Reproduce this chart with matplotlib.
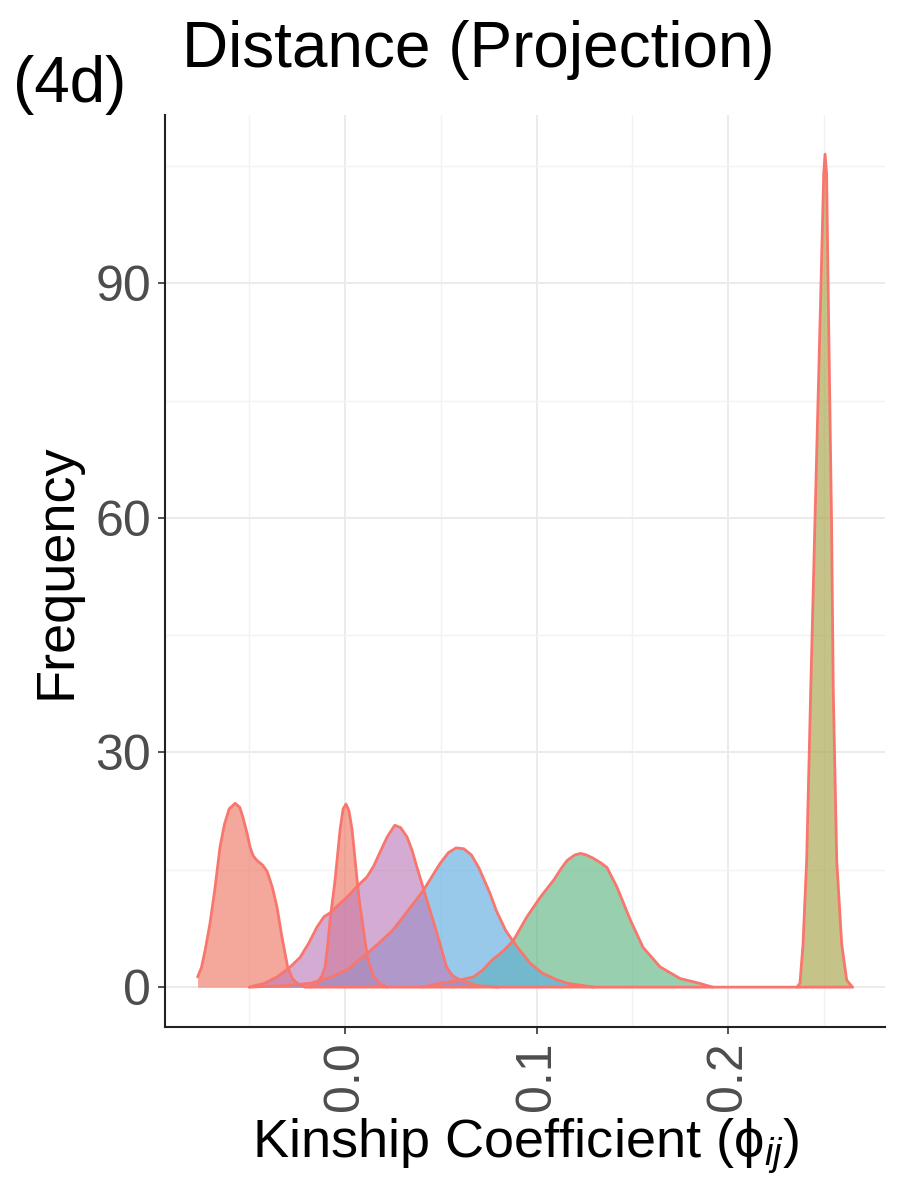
import matplotlib
matplotlib.use("Agg")
import matplotlib.pyplot as plt
from matplotlib.ticker import MultipleLocator

plt.rcParams['font.family'] = ['Liberation Sans', 'DejaVu Sans']
plt.rcParams['mathtext.fontset'] = 'custom'
plt.rcParams['mathtext.rm'] = 'Liberation Sans'
plt.rcParams['mathtext.it'] = 'Liberation Sans:italic'

# density curves (x = kinship coefficient, y = frequency)
red1_x = [-0.077, -0.075, -0.073, -0.0705, -0.068, -0.0653, -0.063, -0.0605, -0.0574,
          -0.055, -0.0533, -0.051, -0.0496, -0.048, -0.046, -0.043, -0.0407, -0.038,
          -0.0355, -0.033, -0.030, -0.0275, -0.025, -0.021, 0.265]
red1_y = [1.3, 2.5, 4.8, 8.2, 12.5, 17.9, 20.8, 22.8, 23.5,
          23.0, 21.7, 19.5, 17.9, 16.8, 16.2, 15.6, 14.8, 12.8,
          10.2, 6.5, 2.6, 1.1, 0.5, 0.0, 0.0]

red2_x = [-0.018, -0.0146, -0.012, -0.0104, -0.009, -0.0078, -0.0052, -0.0026, -0.001,
          0.0005, 0.002, 0.0037, 0.0063, 0.0075, 0.0089, 0.0105, 0.012, 0.015, 0.018, 0.022]
red2_y = [0.0, 0.5, 1.5, 2.6, 5.5, 8.6, 13.7, 20.1, 22.8,
          23.4, 22.6, 20.1, 13.7, 11.0, 8.6, 5.8, 3.5, 1.3, 0.5, 0.0]

purple_x = [-0.05, -0.042, -0.0355, -0.029, -0.0235, -0.019, -0.0146, -0.011, -0.0078,
            -0.003, 0.001, 0.006, 0.0115, 0.015, 0.018, 0.022, 0.026, 0.029, 0.0324,
            0.035, 0.0376, 0.0428, 0.048, 0.053, 0.056, 0.06, 0.069, 0.08]
purple_y = [0.0, 0.5, 1.3, 2.5, 3.8, 5.6, 7.7, 9.0, 9.5,
            10.6, 11.5, 12.8, 14.1, 15.5, 17.1, 19.2, 20.7, 20.4, 19.2,
            17.5, 15.3, 11.1, 6.9, 2.6, 1.5, 0.9, 0.2, 0.0]

blue_x = [-0.05, -0.03, -0.018, -0.008, 0.001, 0.0115, 0.018, 0.025, 0.032, 0.041,
          0.0496, 0.054, 0.058, 0.062, 0.066, 0.070, 0.0757, 0.079, 0.084, 0.090,
          0.0966, 0.103, 0.110, 0.116, 0.130]
blue_y = [0.0, 0.2, 0.5, 1.2, 2.2, 4.3, 5.7, 7.3, 9.5, 12.4,
          15.8, 17.2, 17.8, 17.7, 16.9, 15.2, 12.0, 9.8, 7.2, 5.1,
          3.1, 1.8, 1.0, 0.5, 0.0]

green_x = [0.04, 0.05, 0.058, 0.067, 0.072, 0.077, 0.083, 0.088, 0.095, 0.102, 0.109,
           0.113, 0.116, 0.120, 0.123, 0.126, 0.1295, 0.1335, 0.1368, 0.142, 0.149,
           0.1556, 0.1645, 0.175, 0.185, 0.192]
green_y = [0.0, 0.5, 0.8, 1.3, 2.2, 3.5, 4.7, 6.0, 9.0, 11.5, 13.7,
           15.2, 16.2, 16.9, 17.1, 16.9, 16.5, 15.9, 15.3, 12.8, 8.6,
           5.1, 2.6, 1.1, 0.5, 0.0]

olive_x = [0.236, 0.2376, 0.2392, 0.2411, 0.2432, 0.2454, 0.2484, 0.2500, 0.2507,
           0.2515, 0.2524, 0.2541, 0.2550, 0.2568, 0.2594, 0.262, 0.265]
olive_y = [0.0, 0.5, 5.5, 16.2, 37.8, 59.3, 88.0, 104.0, 106.5,
           104.0, 88.0, 59.3, 37.8, 16.2, 5.5, 0.9, 0.0]

edge = '#F8766D'
a = 0.65

fig = plt.figure(figsize=(8.97, 11.82), dpi=100)
ax = fig.add_axes([0.184, 0.1311, 0.8026, 0.7716])

curves = [
    (green_x, green_y, '#61B884'),
    (olive_x, olive_y, '#A6A348'),
    (red1_x, red1_y, '#EF7865'),
    (red2_x, red2_y, '#EF7865'),
    (blue_x, blue_y, '#61ACDF'),
    (purple_x, purple_y, '#BD7FBA'),
]
for xs, ys, col in curves:
    ax.fill_between(xs, 0, ys, color=col, alpha=a, linewidth=0, zorder=2)
    ax.plot(xs, ys, color=edge, lw=2, zorder=3, solid_capstyle='round',
            solid_joinstyle='round')

ax.set_xlim(-0.094, 0.282)
ax.set_ylim(-5.1, 111.5)
ax.xaxis.set_minor_locator(MultipleLocator(0.05))
ax.yaxis.set_major_locator(MultipleLocator(30))
ax.yaxis.set_minor_locator(MultipleLocator(15))
ax.set_xticks([0.0, 0.1, 0.2])
ax.set_xticklabels(['0.0', '0.1', '0.2'], rotation=90)
ax.grid(which='major', color='#EBEBEB', lw=1.4, zorder=0)
ax.grid(which='minor', color='#F2F2F2', lw=1.0, zorder=0)
ax.set_axisbelow(True)

for s in ['top', 'right']:
    ax.spines[s].set_visible(False)
for s in ['left', 'bottom']:
    ax.spines[s].set_color('#222222')
    ax.spines[s].set_linewidth(1.5)
ax.tick_params(which='major', length=5, width=1.2, color='#333333',
               labelsize=36, labelcolor='#4D4D4D', pad=5)
ax.tick_params(which='minor', length=0)

ax.set_ylabel('Frequency', fontsize=39, labelpad=10)
ax.set_xlabel('Kinship Coefficient (\u03d5$_{ij}$)', fontsize=39, labelpad=4)

fig.text(0.533, 0.958, 'Distance (Projection)', fontsize=46, ha='center', va='center')
fig.text(0.015, 0.928, '(4d)', fontsize=46, ha='left', va='center')

fig.savefig('out.png', dpi=100)
